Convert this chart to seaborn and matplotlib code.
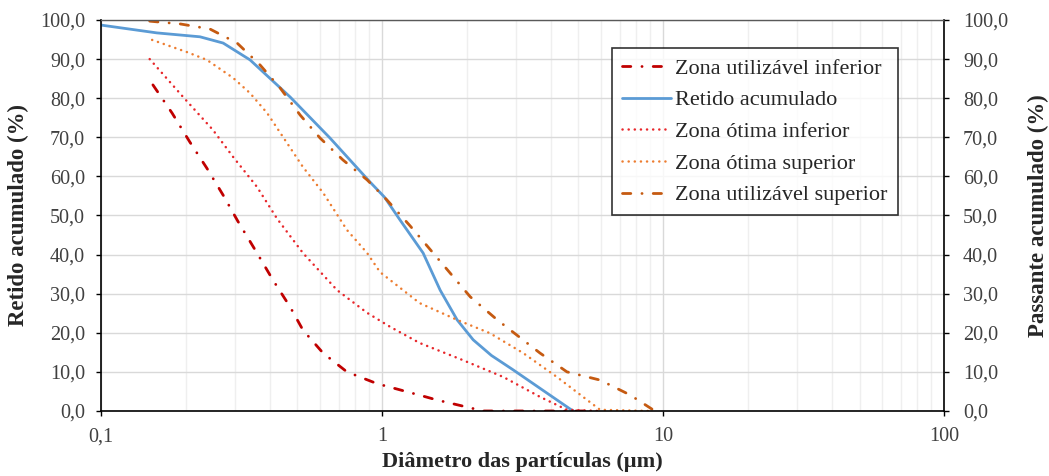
import numpy as np
import pandas as pd
import matplotlib
matplotlib.use("Agg")
import matplotlib.pyplot as plt
import seaborn as sns
from matplotlib.ticker import FuncFormatter, LogLocator, NullFormatter

sns.set_style("white")
plt.rcParams['font.family'] = ['Liberation Serif', 'DejaVu Serif']

# Curves (diameter in um, cumulative %)
util_inf_x = [0.153, 0.179, 0.207, 0.238, 0.272, 0.307, 0.359, 0.409, 0.471, 0.523,
              0.617, 0.750, 0.959, 1.40, 1.57, 2.06, 2.29, 3.5, 5.5]
util_inf_y = [83.4, 76.2, 68.8, 62.1, 55.2, 48.5, 40.4, 33.5, 26.6, 20.7,
              14.8, 10.0, 7.0, 3.8, 2.8, 0.8, 0.0, 0.0, 0.0]

retido_x = [0.1, 0.158, 0.225, 0.272, 0.339, 0.471, 0.653, 0.905, 1.02, 1.16,
            1.40, 1.61, 1.85, 2.11, 2.45, 2.93, 4.67, 4.8]
retido_y = [98.7, 96.7, 95.7, 94.1, 89.8, 80.3, 69.8, 58.6, 54.7, 48.8,
            40.4, 30.9, 23.3, 18.2, 14.2, 10.5, 0.5, 0.0]

otima_inf_x = [0.149, 0.196, 0.250, 0.295, 0.359, 0.423, 0.523, 0.692, 0.885, 1.07,
               1.36, 1.94, 2.70, 3.65, 4.55, 6.0]
otima_inf_y = [90.0, 80.3, 71.9, 65.0, 57.3, 49.2, 40.4, 30.9, 25.1, 21.5,
               17.4, 13.0, 8.7, 3.6, 0.3, 0.0]

otima_sup_x = [0.152, 0.202, 0.238, 0.295, 0.339, 0.390, 0.444, 0.523, 0.617, 0.750,
               0.885, 0.984, 1.36, 1.85, 2.42, 3.18, 4.19, 5.37, 5.97, 9.0]
otima_sup_y = [94.9, 91.8, 89.8, 85.2, 81.3, 76.2, 70.1, 62.4, 55.8, 46.3,
               40.4, 35.5, 27.6, 23.3, 19.9, 14.8, 8.7, 2.8, 0.3, 0.0]

util_sup_x = [0.149, 0.191, 0.244, 0.305, 0.368, 0.434, 0.511, 0.602, 0.726, 0.885,
              1.04, 1.26, 1.52, 2.06, 2.57, 3.65, 4.55, 5.97, 7.63, 9.21, 9.5]
util_sup_y = [99.7, 99.0, 97.7, 94.1, 88.5, 82.6, 75.7, 69.8, 64.2, 59.1,
              54.0, 47.3, 40.4, 29.2, 23.3, 14.8, 10.0, 7.9, 4.1, 0.3, 0.0]

dashdot = (0, (3, 4, 0.05, 4))
dotted = (0, (0.05, 2.4))
series = [
    ("Zona utilizável inferior", util_inf_x, util_inf_y, "#C00000", dashdot, 2.0),
    ("Retido acumulado", retido_x, retido_y, "#5B9BD5", "-", 2.0),
    ("Zona ótima inferior", otima_inf_x, otima_inf_y, "#E8272B", dotted, 1.8),
    ("Zona ótima superior", otima_sup_x, otima_sup_y, "#ED7D31", dotted, 1.8),
    ("Zona utilizável superior", util_sup_x, util_sup_y, "#C55A11", dashdot, 2.0),
]

fig = plt.figure(figsize=(10.49, 4.76), dpi=100)
ax = fig.add_axes([0.0963, 0.1366, 0.8037, 0.8214])

for name, xs, ys, color, ls, lw in series:
    df = pd.DataFrame({'x': xs, 'y': ys})
    sns.lineplot(data=df, x='x', y='y', ax=ax, color=color, linewidth=lw,
                 linestyle=ls, label=name, sort=False, estimator=None)
for line in ax.get_lines():
    if line.get_linestyle() != '-':
        line.set_dash_capstyle('round')

ax.set_xscale('log')
ax.set_xlim(0.1, 100)
ax.set_ylim(0, 100)
ax.set_yticks(np.arange(0, 101, 10))

comma = FuncFormatter(lambda v, p: f"{v:.1f}".replace('.', ','))
ax.yaxis.set_major_formatter(comma)
ax.xaxis.set_major_locator(LogLocator(base=10, numticks=10))
ax.xaxis.set_major_formatter(FuncFormatter(lambda v, p: f"{v:g}".replace('.', ',')))
ax.xaxis.set_minor_locator(LogLocator(base=10, subs=np.arange(2, 10), numticks=20))
ax.xaxis.set_minor_formatter(NullFormatter())

ax.grid(True, which='major', axis='y', color='#D9D9D9', linewidth=1.0)
ax.grid(True, which='major', axis='x', color='#D9D9D9', linewidth=1.0)
ax.grid(True, which='minor', axis='x', color='#EFEFEF', linewidth=1.0)
ax.set_axisbelow(True)

for s in ['left', 'bottom', 'right']:
    ax.spines[s].set_color('black')
    ax.spines[s].set_linewidth(1.2)
ax.spines['top'].set_color('#595959')
ax.spines['top'].set_linewidth(1.0)

ax.tick_params(axis='both', which='major', direction='out', length=3.6, width=1,
               labelsize=14.5, colors='black', labelcolor='#404040', left=True, bottom=True)
ax.tick_params(axis='y', pad=8)
ax.tick_params(axis='x', pad=8)
ax.tick_params(axis='x', which='minor', length=0)

ax.set_xlabel("Diâmetro das partículas (µm)", fontsize=16, fontweight='bold', labelpad=4)
ax.set_ylabel("Retido acumulado (%)", fontsize=16.5, fontweight='bold', labelpad=8)

ax2 = ax.twinx()
ax2.set_ylim(0, 100)
ax2.set_yticks(np.arange(0, 101, 10))
ax2.yaxis.set_major_formatter(comma)
ax2.tick_params(axis='y', direction='out', length=3.6, width=1, labelsize=14.5, pad=10,
                colors='black', labelcolor='#404040', right=True)
for s in ax2.spines.values():
    s.set_visible(False)
ax2.set_ylabel("Passante acumulado (%)", fontsize=16.5, fontweight='bold', labelpad=14)

leg = ax.legend(loc='upper left', bbox_to_anchor=(0.606, 0.928), fontsize=16,
                frameon=True, fancybox=False, edgecolor='black', handlelength=2.2,
                handletextpad=0.2, labelspacing=0.5, borderpad=0.45, borderaxespad=0)
leg.get_frame().set_linewidth(1.2)

plt.savefig('out.png', dpi=100)
